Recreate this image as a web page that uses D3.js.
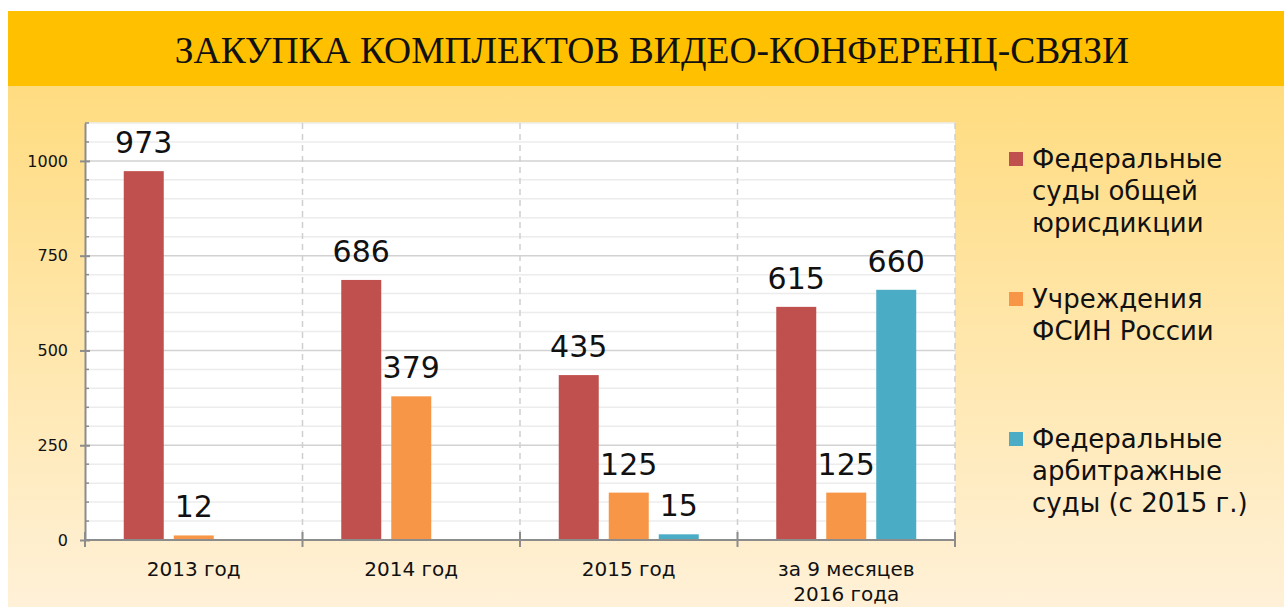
<!DOCTYPE html>
<html>
<head>
<meta charset="utf-8">
<script src="https://cdn.jsdelivr.net/npm/d3@7"></script>
<style>
  body { margin: 0; background: #fff; }
  svg { display: block; }
</style>
</head>
<body>
<svg></svg>
<script>
var width = 1284;
var height = 607;

var title = "ЗАКУПКА КОМПЛЕКТОВ ВИДЕО-КОНФЕРЕНЦ-СВЯЗИ";
var categories = ["2013 год", "2014 год", "2015 год", "за 9 месяцев\n2016 года"];
var seriesKeys = ["general", "fsin", "arbitr"];
var seriesColors = ["#C0504D", "#F79646", "#4BACC6"];
var legendLabels = [
  ["Федеральные", "суды общей", "юрисдикции"],
  ["Учреждения", "ФСИН России"],
  ["Федеральные", "арбитражные", "суды (с 2015 г.)"]
];
var generalCourts = [973, 686, 435, 615];
var fsinValues = [12, 379, 125, 125];
var arbitrCourts = [null, null, 15, 660];
var yTicks = [0, 250, 500, 750, 1000];
var yMax = 1100;

var seriesValues = [generalCourts, fsinValues, arbitrCourts];

var plot = {left: 85, right: 955, top: 123, bottom: 540};
var font = "'DejaVu Sans', Verdana, sans-serif";

var svg = d3.select("svg")
  .attr("width", width)
  .attr("height", height);

var defs = svg.append("defs");
var grad = defs.append("linearGradient")
  .attr("id", "bg")
  .attr("x1", 0).attr("y1", 0).attr("x2", 0).attr("y2", 1);
grad.append("stop").attr("offset", "0%").attr("stop-color", "#FFDC80");
grad.append("stop").attr("offset", "100%").attr("stop-color", "#FFF1D8");

// background + title bar
svg.append("rect")
  .attr("x", 8).attr("y", 86)
  .attr("width", width - 8).attr("height", height - 86)
  .attr("fill", "url(#bg)");

svg.append("rect")
  .attr("x", 8).attr("y", 11)
  .attr("width", width - 8).attr("height", 75)
  .attr("fill", "#FFC000");

svg.append("text")
  .attr("x", 652).attr("y", 63)
  .attr("text-anchor", "middle")
  .style("font-family", "'Liberation Serif', 'Times New Roman', serif")
  .style("font-size", "37.5px")
  .attr("fill", "#111")
  .text(title);

// scales
var x0 = d3.scaleBand()
  .domain(categories)
  .range([plot.left, plot.right])
  .padding(0);

var x1 = d3.scaleBand()
  .domain(seriesKeys)
  .range([x0.bandwidth() / 2 - 70, x0.bandwidth() / 2 + 70])
  .paddingInner(0.2)
  .paddingOuter(0);

var y = d3.scaleLinear()
  .domain([0, yMax])
  .range([plot.bottom, plot.top]);

// plot area
svg.append("rect")
  .attr("x", plot.left).attr("y", plot.top)
  .attr("width", plot.right - plot.left).attr("height", plot.bottom - plot.top)
  .attr("fill", "#fff");

var minorTicks = d3.range(50, yMax + 1, 50).filter(v => v % 250 !== 0);

svg.append("g")
  .selectAll("line")
  .data(minorTicks)
  .join("line")
    .attr("x1", plot.left).attr("x2", plot.right)
    .attr("y1", d => y(d)).attr("y2", d => y(d))
    .attr("stroke", "#ececec")
    .attr("stroke-width", 1.5);

svg.append("g")
  .selectAll("line")
  .data(yTicks.filter(d => d > 0))
  .join("line")
    .attr("x1", plot.left).attr("x2", plot.right)
    .attr("y1", d => y(d)).attr("y2", d => y(d))
    .attr("stroke", "#d2d2d2")
    .attr("stroke-width", 1.5);

// dashed category separators
svg.append("g")
  .selectAll("line")
  .data(categories.slice(1).map(c => x0(c)).concat([plot.right]))
  .join("line")
    .attr("x1", d => d).attr("x2", d => d)
    .attr("y1", plot.top).attr("y2", plot.bottom)
    .attr("stroke", "#cfcfcf")
    .attr("stroke-width", 1.5)
    .attr("stroke-dasharray", "6,5");

// bars
var groups = svg.append("g")
  .selectAll("g")
  .data(categories)
  .join("g")
    .attr("transform", d => "translate(" + x0(d) + ",0)");

groups.each(function(cat, ci) {
  var g = d3.select(this);
  var items = seriesKeys.map((k, si) => ({key: k, color: seriesColors[si], value: seriesValues[si][ci]}))
    .filter(d => d.value !== null);

  g.selectAll("rect")
    .data(items)
    .join("rect")
      .attr("x", d => x1(d.key))
      .attr("y", d => y(d.value))
      .attr("width", x1.bandwidth())
      .attr("height", d => y(0) - y(d.value))
      .attr("fill", d => d.color);

  g.selectAll("text")
    .data(items)
    .join("text")
      .attr("x", d => x1(d.key) + x1.bandwidth() / 2)
      .attr("y", d => y(d.value) - 18)
      .attr("text-anchor", "middle")
      .style("font-family", font)
      .style("font-size", "30px")
      .attr("fill", "#111")
      .text(d => d.value);
});

// y axis
var yAxis = svg.append("g")
  .attr("transform", "translate(" + plot.left + ",0)")
  .call(d3.axisLeft(y).tickValues(yTicks).tickFormat(d3.format("d"))
    .tickSize(5).tickPadding(12).tickSizeOuter(0));

yAxis.select(".domain").attr("stroke", "#8c8c8c").attr("stroke-width", 2);
yAxis.selectAll(".tick line").attr("x1", 5).attr("stroke", "#8c8c8c").attr("stroke-width", 2);
yAxis.selectAll(".tick text")
  .style("font-family", font)
  .style("font-size", "16px")
  .attr("fill", "#111");

svg.append("g")
  .selectAll("line")
  .data(minorTicks)
  .join("line")
    .attr("x1", plot.left).attr("x2", plot.left + 4)
    .attr("y1", d => y(d)).attr("y2", d => y(d))
    .attr("stroke", "#8c8c8c")
    .attr("stroke-width", 1.5);

// x axis
var xAxis = svg.append("g")
  .attr("transform", "translate(0," + plot.bottom + ")");

xAxis.append("line")
  .attr("x1", plot.left).attr("x2", plot.right)
  .attr("stroke", "#8c8c8c").attr("stroke-width", 2);

xAxis.selectAll(".sep")
  .data(categories.map(c => x0(c)).concat([plot.right]))
  .join("line")
    .attr("class", "sep")
    .attr("x1", d => d).attr("x2", d => d)
    .attr("y1", -8).attr("y2", 7)
    .attr("stroke", "#8c8c8c").attr("stroke-width", 2);

xAxis.selectAll(".lbl")
  .data(categories)
  .join("text")
    .attr("class", "lbl")
    .attr("text-anchor", "middle")
    .style("font-family", font)
    .style("font-size", "20px")
    .attr("fill", "#111")
    .each(function(d) {
      var t = d3.select(this);
      d.split("\n").forEach((line, i) => {
        t.append("tspan")
          .attr("x", x0(d) + x0.bandwidth() / 2)
          .attr("y", 36 + i * 25)
          .text(line);
      });
    });

// legend
var legend = svg.append("g")
  .selectAll("g")
  .data(legendLabels)
  .join("g")
    .attr("transform", (d, i) => "translate(1009," + (168 + i * 140) + ")");

legend.append("rect")
  .attr("x", 0).attr("y", -16)
  .attr("width", 14).attr("height", 14)
  .attr("fill", (d, i) => seriesColors[i]);

legend.append("text")
  .style("font-family", font)
  .style("font-size", "26px")
  .attr("fill", "#111")
  .each(function(lines) {
    var t = d3.select(this);
    lines.forEach((line, i) => {
      t.append("tspan")
        .attr("x", 23)
        .attr("y", i * 32)
        .text(line);
    });
  });
</script>
</body>
</html>
